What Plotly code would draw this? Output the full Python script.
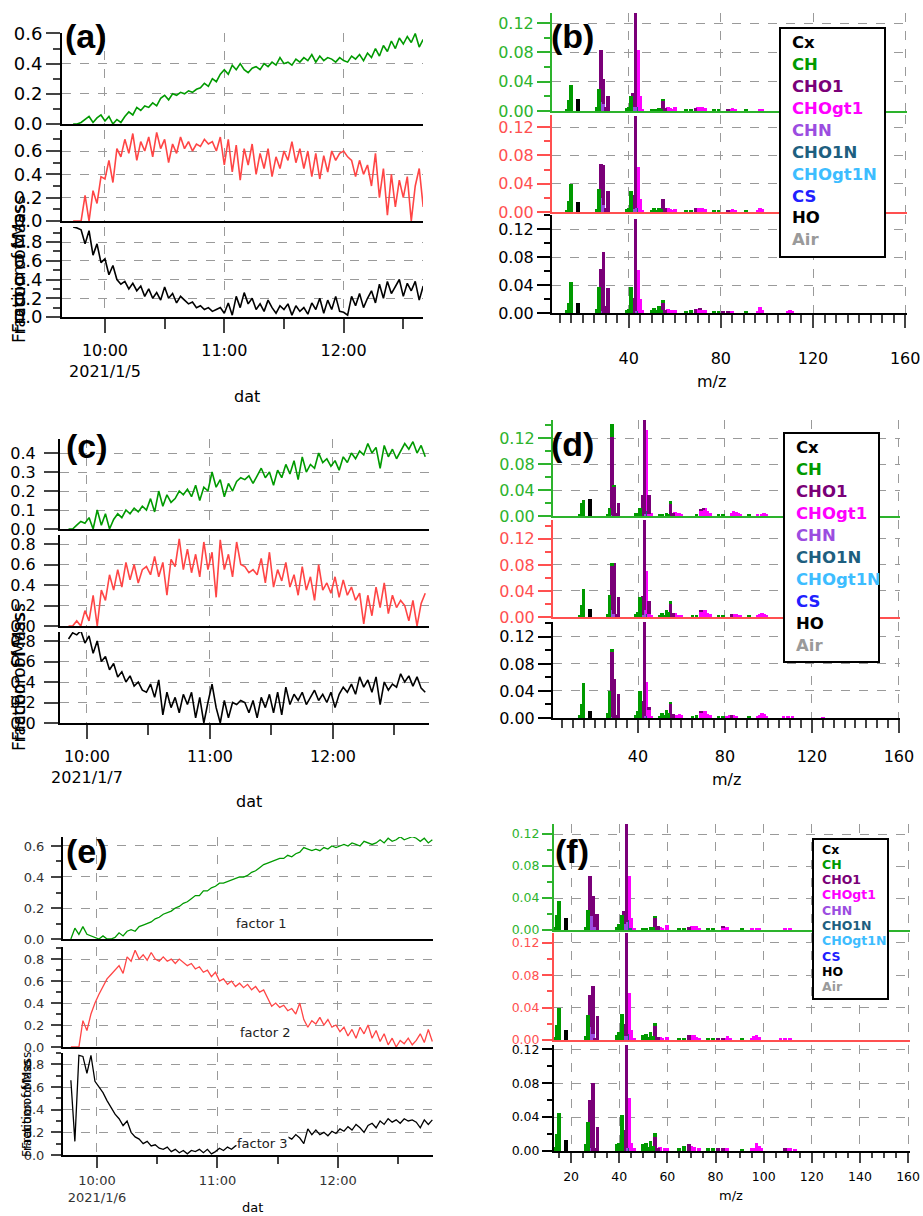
import pandas as pd
import plotly.graph_objects as go

# ---------------- factor time series (fraction of mass), one value every 2 min ----------------
A_START = "2021-01-05 09:44"
A_FACTOR1 = [0.00, 0.00, 0.01, 0.03, 0.05, 0.01, 0.04, 0.06, 0.02, 0.05, 0.00, 0.03, 0.01, 0.05, 0.08,
             0.06, 0.11, 0.09, 0.12, 0.11, 0.14, 0.12, 0.17, 0.19, 0.16, 0.20, 0.19, 0.21, 0.20, 0.22,
             0.21, 0.23, 0.24, 0.27, 0.25, 0.30, 0.28, 0.33, 0.36, 0.33, 0.39, 0.36, 0.40, 0.36, 0.34,
             0.37, 0.38, 0.36, 0.40, 0.38, 0.41, 0.39, 0.44, 0.40, 0.41, 0.39, 0.43, 0.41, 0.44, 0.42,
             0.46, 0.41, 0.45, 0.42, 0.44, 0.43, 0.41, 0.44, 0.42, 0.41, 0.45, 0.43, 0.46, 0.42, 0.47,
             0.44, 0.50, 0.45, 0.52, 0.48, 0.55, 0.50, 0.57, 0.53, 0.58, 0.54, 0.60, 0.51, 0.56]
A_FACTOR2 = [0.00, 0.00, 0.00, 0.22, 0.00, 0.26, 0.15, 0.38, 0.36, 0.52, 0.33, 0.62, 0.55, 0.70, 0.58,
             0.75, 0.52, 0.68, 0.60, 0.72, 0.55, 0.76, 0.62, 0.70, 0.50, 0.66, 0.58, 0.72, 0.62, 0.68,
             0.60, 0.66, 0.64, 0.70, 0.66, 0.68, 0.60, 0.72, 0.48, 0.70, 0.42, 0.65, 0.35, 0.62, 0.48,
             0.66, 0.40, 0.58, 0.45, 0.62, 0.38, 0.55, 0.45, 0.60, 0.52, 0.68, 0.50, 0.62, 0.45, 0.60,
             0.38, 0.58, 0.36, 0.56, 0.42, 0.60, 0.52, 0.58, 0.60, 0.55, 0.52, 0.38, 0.52, 0.40, 0.48,
             0.30, 0.58, 0.20, 0.45, 0.05, 0.40, 0.12, 0.35, 0.20, 0.38, 0.00, 0.30, 0.45, 0.12]
A_FACTOR3 = [0.96, 0.95, 0.93, 0.78, 0.92, 0.66, 0.78, 0.58, 0.62, 0.45, 0.55, 0.40, 0.35, 0.38, 0.30,
             0.36, 0.28, 0.33, 0.22, 0.30, 0.20, 0.26, 0.18, 0.32, 0.20, 0.25, 0.15, 0.22, 0.18, 0.14,
             0.16, 0.10, 0.12, 0.08, 0.10, 0.06, 0.08, 0.10, 0.04, 0.15, 0.02, 0.22, 0.10, 0.26, 0.14,
             0.20, 0.08, 0.14, 0.06, 0.18, 0.10, 0.04, 0.12, 0.08, 0.14, 0.02, 0.12, 0.06, 0.10, 0.03,
             0.15, 0.08, 0.20, 0.04, 0.18, 0.08, 0.22, 0.06, 0.05, 0.02, 0.22, 0.12, 0.25, 0.10, 0.20,
             0.28, 0.15, 0.35, 0.20, 0.38, 0.25, 0.32, 0.40, 0.22, 0.36, 0.28, 0.38, 0.18, 0.33]

C_START = "2021-01-07 09:51"
C_FACTOR1 = [0.00, 0.00, 0.02, 0.04, 0.03, 0.06, 0.00, 0.10, 0.02, 0.08, 0.00, 0.05, 0.08, 0.06, 0.10,
             0.08, 0.11, 0.09, 0.12, 0.10, 0.16, 0.09, 0.20, 0.12, 0.18, 0.14, 0.16, 0.20, 0.18, 0.21,
             0.17, 0.23, 0.15, 0.22, 0.20, 0.30, 0.22, 0.26, 0.17, 0.24, 0.20, 0.25, 0.27, 0.26, 0.28,
             0.24, 0.28, 0.32, 0.27, 0.30, 0.23, 0.31, 0.27, 0.34, 0.29, 0.36, 0.26, 0.38, 0.30, 0.34,
             0.32, 0.40, 0.35, 0.37, 0.33, 0.36, 0.31, 0.38, 0.35, 0.40, 0.37, 0.41, 0.39, 0.45, 0.40,
             0.43, 0.32, 0.44, 0.38, 0.42, 0.37, 0.41, 0.45, 0.42, 0.46, 0.40, 0.44, 0.38]
C_FACTOR2 = [0.00, 0.00, 0.05, 0.00, 0.15, 0.05, 0.30, 0.00, 0.35, 0.25, 0.50, 0.35, 0.55, 0.38, 0.62,
             0.45, 0.60, 0.42, 0.55, 0.58, 0.50, 0.68, 0.48, 0.62, 0.30, 0.65, 0.58, 0.85, 0.55, 0.75,
             0.52, 0.70, 0.48, 0.82, 0.55, 0.72, 0.28, 0.84, 0.55, 0.70, 0.48, 0.82, 0.60, 0.58, 0.52,
             0.55, 0.50, 0.66, 0.42, 0.72, 0.38, 0.55, 0.44, 0.62, 0.38, 0.50, 0.30, 0.58, 0.35, 0.48,
             0.25, 0.60, 0.35, 0.42, 0.32, 0.48, 0.28, 0.45, 0.30, 0.38, 0.25, 0.32, 0.02, 0.30, 0.10,
             0.38, 0.18, 0.42, 0.12, 0.30, 0.18, 0.25, 0.20, 0.05, 0.25, 0.00, 0.22, 0.32]
C_FACTOR3 = [0.82, 0.88, 0.86, 0.90, 0.78, 0.85, 0.68, 0.80, 0.60, 0.65, 0.52, 0.58, 0.45, 0.50, 0.40,
             0.46, 0.36, 0.40, 0.32, 0.30, 0.38, 0.25, 0.42, 0.08, 0.30, 0.15, 0.25, 0.10, 0.28, 0.18,
             0.30, 0.05, 0.25, 0.00, 0.20, 0.38, 0.15, 0.00, 0.22, 0.05, 0.20, 0.18, 0.22, 0.20, 0.10,
             0.22, 0.05, 0.25, 0.15, 0.28, 0.10, 0.30, 0.08, 0.35, 0.18, 0.28, 0.22, 0.30, 0.18, 0.25,
             0.32, 0.22, 0.28, 0.20, 0.30, 0.15, 0.28, 0.35, 0.30, 0.38, 0.28, 0.45, 0.35, 0.42, 0.30,
             0.45, 0.18, 0.40, 0.32, 0.38, 0.35, 0.48, 0.40, 0.46, 0.36, 0.45, 0.34, 0.30]

E_START = "2021-01-06 09:47"
E_FACTOR1 = [0.00, 0.07, 0.03, 0.08, 0.03, 0.02, 0.01, 0.00, 0.02, 0.00, 0.00, 0.01, 0.04, 0.02, 0.05,
             0.06, 0.05, 0.08, 0.09, 0.10, 0.11, 0.13, 0.14, 0.16, 0.17, 0.18, 0.20, 0.21, 0.23, 0.24,
             0.26, 0.28, 0.28, 0.31, 0.31, 0.33, 0.34, 0.36, 0.36, 0.37, 0.38, 0.39, 0.40, 0.40, 0.41,
             0.43, 0.44, 0.46, 0.48, 0.49, 0.50, 0.51, 0.52, 0.52, 0.54, 0.53, 0.55, 0.56, 0.59, 0.58,
             0.57, 0.58, 0.57, 0.59, 0.58, 0.60, 0.59, 0.60, 0.61, 0.60, 0.62, 0.61, 0.60, 0.63, 0.62,
             0.61, 0.62, 0.64, 0.62, 0.65, 0.63, 0.64, 0.66, 0.64, 0.65, 0.66, 0.65, 0.63, 0.65, 0.62,
             0.64]
E_FACTOR2 = [0.00, 0.00, 0.00, 0.24, 0.15, 0.30, 0.40, 0.48, 0.55, 0.62, 0.66, 0.70, 0.74, 0.67, 0.82,
             0.78, 0.88, 0.80, 0.84, 0.79, 0.86, 0.80, 0.78, 0.82, 0.78, 0.80, 0.76, 0.80, 0.77, 0.74,
             0.76, 0.71, 0.73, 0.68, 0.70, 0.64, 0.68, 0.60, 0.62, 0.57, 0.60, 0.55, 0.58, 0.54, 0.57,
             0.52, 0.55, 0.50, 0.52, 0.44, 0.37, 0.40, 0.36, 0.38, 0.33, 0.35, 0.30, 0.40, 0.25, 0.18,
             0.24, 0.21, 0.27, 0.20, 0.25, 0.18, 0.20, 0.14, 0.18, 0.10, 0.16, 0.08, 0.18, 0.12, 0.20,
             0.08, 0.15, 0.05, 0.12, 0.02, 0.08, 0.00, 0.06, 0.03, 0.08, 0.02, 0.06, 0.12, 0.04, 0.16,
             0.05]
E_FACTOR3 = [0.66, 0.12, 0.88, 0.87, 0.72, 0.88, 0.65, 0.60, 0.55, 0.48, 0.42, 0.36, 0.32, 0.26, 0.30,
             0.20, 0.16, 0.14, 0.10, 0.12, 0.08, 0.09, 0.06, 0.05, 0.07, 0.03, 0.05, 0.02, 0.04, 0.01,
             0.04, 0.03, 0.05, 0.02, 0.05, 0.01, 0.03, 0.06, 0.04, 0.07, 0.05, 0.08, 0.09, 0.10, 0.10,
             0.12, 0.11, 0.13, 0.12, 0.14, 0.13, 0.16, 0.14, 0.12, 0.16, 0.14, 0.18, 0.15, 0.10, 0.23,
             0.18, 0.22, 0.18, 0.20, 0.17, 0.21, 0.19, 0.23, 0.21, 0.25, 0.22, 0.27, 0.24, 0.20, 0.26,
             0.28, 0.24, 0.30, 0.27, 0.32, 0.29, 0.31, 0.28, 0.32, 0.30, 0.31, 0.29, 0.24, 0.31, 0.27,
             0.31]

FACTOR_COLORS = ["#009A00", "#FF4545", "#000000"]

# ---------------- factor mass spectra: family -> [(m/z, fraction)] ----------------
FAMILIES = ["Cx", "CH", "CHO1", "CHOgt1", "CHN", "CHO1N", "CHOgt1N", "CS", "HO", "Air"]
FAMILY_COLORS = ["#000000", "#009A00", "#7A0078", "#FF00FF", "#9B4DE0", "#1E5F80",
                 "#3DBDFF", "#2020FF", "#000000", "#9A9A9A"]
STACK = ["CHO1N", "CHN", "CHOgt1", "CHO1", "CH", "HO"]   # bottom -> top

B_F1 = {
    "CH": [(13, .003), (14, .015), (15, .035), (26, .005), (27, .030), (39, .004), (40, .005), (41, .020),
           (50, .002), (51, .003), (52, .002), (53, .004), (54, .003), (55, .004), (65, .002), (67, .003),
           (77, .002), (79, .002), (91, .002)],
    "HO": [(18, .017)],
    "CHN": [(28, .012), (29, .010), (42, .005), (43, .005)],
    "CHO1N": [(44, .006)],
    "CHO1": [(28, .071), (29, .034), (30, .006), (31, .020), (42, .020), (43, .130), (55, .013), (56, .004),
             (69, .004), (83, .002)],
    "CHOgt1": [(44, .077), (45, .020), (46, .003), (57, .005), (58, .004), (59, .003), (60, .005), (70, .005),
               (71, .006), (72, .005), (73, .004), (84, .003), (85, .004), (86, .003), (97, .003), (98, .002),
               (111, .002)],
}
B_F2 = {
    "CH": [(13, .003), (14, .015), (15, .040), (26, .004), (27, .033), (39, .004), (40, .006), (41, .030),
           (50, .003), (51, .005), (52, .003), (53, .006), (54, .004), (65, .002), (67, .003), (77, .002),
           (79, .002), (91, .002)],
    "HO": [(18, .014)],
    "CHN": [(28, .020), (29, .010), (42, .004), (43, .006)],
    "CHO1N": [(44, .006)],
    "CHO1": [(28, .048), (29, .057), (30, .006), (31, .030), (42, .020), (43, .130), (55, .018), (56, .005),
             (69, .005), (83, .003)],
    "CHOgt1": [(44, .058), (45, .018), (46, .003), (57, .005), (58, .004), (59, .003), (60, .004), (70, .006),
               (71, .006), (72, .005), (73, .004), (84, .003), (85, .004), (86, .003), (96, .003), (97, .006),
               (98, .004), (111, .002)],
}
B_F3 = {
    "CH": [(13, .004), (14, .015), (15, .045), (26, .006), (27, .037), (39, .005), (40, .006), (41, .037),
           (50, .004), (51, .007), (52, .004), (53, .010), (54, .005), (55, .004), (65, .003), (67, .004),
           (77, .003), (79, .002), (91, .002)],
    "HO": [(18, .014)],
    "CHN": [(28, .003), (43, .003)],
    "CHO1N": [(44, .003)],
    "CHO1": [(28, .060), (29, .087), (30, .010), (31, .036), (42, .022), (43, .132), (55, .015), (56, .005),
             (69, .006), (71, .003), (81, .002), (83, .003)],
    "CHOgt1": [(44, .058), (45, .020), (46, .004), (57, .006), (58, .004), (59, .004), (60, .004), (70, .006),
               (71, .004), (72, .005), (73, .004), (84, .003), (85, .003), (96, .003), (97, .009), (98, .005),
               (109, .002), (110, .004), (111, .003)],
}

D_F1 = {
    "CH": [(13, .003), (14, .020), (15, .025), (26, .003), (27, .012), (28, .020), (29, .004), (39, .005),
           (40, .003), (41, .012), (50, .002), (51, .003), (53, .004), (54, .003), (55, .003), (67, .002),
           (77, .002), (79, .002), (91, .002)],
    "HO": [(18, .026)],
    "CHN": [(28, .002), (43, .003)],
    "CHO1N": [(44, .008)],
    "CHO1": [(28, .120), (29, .044), (30, .005), (31, .020), (42, .032), (43, .150), (45, .030), (55, .020),
             (56, .005), (69, .003), (70, .003)],
    "CHOgt1": [(44, .125), (45, .003), (46, .004), (57, .006), (58, .004), (59, .005), (60, .003), (69, .008),
               (70, .010), (71, .012), (72, .008), (73, .005), (83, .004), (84, .007), (85, .006), (86, .004),
               (87, .003), (95, .002), (97, .003), (98, .004), (99, .003)],
}
D_F2 = {
    "CH": [(13, .003), (14, .018), (15, .043), (26, .005), (27, .034), (28, .005), (39, .005), (40, .008),
           (41, .031), (50, .003), (51, .006), (52, .003), (53, .010), (54, .008), (55, .004), (65, .002),
           (67, .003), (77, .002), (79, .002), (91, .002)],
    "HO": [(18, .013)],
    "CHN": [(28, .010), (29, .005), (42, .003), (43, .010)],
    "CHO1N": [(44, .005)],
    "CHO1": [(28, .068), (29, .078), (30, .005), (31, .030), (42, .030), (43, .140), (45, .020), (55, .020),
             (56, .006), (69, .003), (83, .004)],
    "CHOgt1": [(44, .066), (45, .005), (46, .003), (57, .006), (58, .003), (59, .003), (60, .003), (69, .008),
               (70, .010), (71, .010), (72, .006), (73, .004), (84, .004), (85, .004), (87, .002), (95, .003),
               (96, .004), (97, .006), (98, .005), (99, .003), (109, .002), (111, .002)],
}
D_F3 = {
    "CH": [(13, .004), (14, .020), (15, .052), (26, .008), (27, .040), (28, .005), (39, .005), (40, .010),
           (41, .040), (50, .003), (51, .008), (52, .004), (53, .012), (54, .008), (55, .004), (65, .003),
           (67, .004), (77, .003), (79, .003), (91, .002)],
    "HO": [(18, .010)],
    "CHN": [(28, .002), (43, .003)],
    "CHO1N": [(44, .003)],
    "CHO1": [(28, .095), (29, .058), (30, .005), (31, .035), (42, .025), (43, .150), (45, .004), (55, .020),
             (56, .006), (69, .003), (83, .005)],
    "CHOgt1": [(44, .050), (45, .012), (46, .003), (57, .005), (58, .004), (59, .006), (60, .004), (69, .008),
               (70, .010), (71, .010), (72, .006), (73, .004), (81, .003), (82, .004), (84, .004), (85, .003),
               (95, .003), (96, .005), (97, .008), (98, .006), (99, .003), (107, .002), (109, .003),
               (111, .002), (125, .001)],
}

F_F1 = {
    "CH": [(13, .004), (14, .019), (15, .036), (26, .004), (27, .025), (39, .004), (40, .008), (41, .019),
           (50, .002), (51, .003), (53, .004), (54, .004), (55, .003), (65, .002), (67, .002), (77, .002),
           (79, .002), (91, .002)],
    "HO": [(18, .015)],
    "CHN": [(28, .017), (29, .017), (30, .004), (42, .008), (43, .010)],
    "CHO1N": [(44, .013), (45, .003)],
    "CHO1": [(28, .050), (29, .025), (30, .016), (31, .020), (42, .016), (43, .124), (55, .015), (56, .005),
             (69, .004), (83, .002)],
    "CHOgt1": [(44, .055), (45, .012), (46, .003), (57, .004), (58, .003), (60, .006), (70, .005), (71, .005),
               (72, .005), (73, .003), (83, .003), (84, .004), (85, .004), (95, .002), (97, .003), (98, .002),
               (109, .002), (111, .002)],
}
F_F2 = {
    "CH": [(13, .004), (14, .018), (15, .039), (26, .005), (27, .031), (39, .006), (40, .010), (41, .032),
           (50, .006), (51, .007), (52, .004), (53, .010), (54, .005), (55, .004), (65, .003), (67, .002),
           (77, .002), (79, .002), (91, .002)],
    "HO": [(18, .012)],
    "CHN": [(28, .016), (29, .008), (42, .005), (43, .005)],
    "CHO1N": [(44, .008)],
    "CHO1": [(28, .040), (29, .059), (30, .003), (31, .029), (42, .015), (43, .127), (55, .017), (56, .004),
             (69, .006), (81, .002), (83, .003)],
    "CHOgt1": [(44, .050), (45, .012), (46, .003), (57, .004), (58, .003), (60, .004), (70, .006), (71, .006),
               (72, .004), (73, .003), (84, .003), (85, .005), (86, .003), (95, .003), (96, .005), (97, .006),
               (98, .004), (107, .002), (109, .002), (111, .003)],
}
F_F3 = {
    "CH": [(13, .005), (14, .020), (15, .045), (26, .008), (27, .034), (39, .008), (40, .010), (41, .042),
           (50, .008), (51, .010), (52, .005), (53, .012), (54, .006), (55, .004), (65, .004), (67, .006),
           (77, .003), (79, .003), (91, .002)],
    "HO": [(18, .013)],
    "CHN": [(28, .003), (43, .003)],
    "CHO1N": [(44, .003)],
    "CHO1": [(28, .057), (29, .080), (30, .004), (31, .028), (42, .025), (43, .130), (55, .017), (56, .004),
             (69, .008), (81, .004), (83, .003), (109, .003)],
    "CHOgt1": [(44, .060), (45, .010), (46, .003), (57, .005), (59, .004), (60, .003), (70, .006), (71, .005),
               (73, .003), (84, .003), (85, .003), (95, .003), (96, .004), (97, .009), (98, .006), (99, .003),
               (110, .004), (111, .003), (113, .002)],
}

SPEC_AXIS_COLORS = ["#2DB32D", "#FF5050", "#000000"]
COLOR_OF = dict(zip(FAMILIES, FAMILY_COLORS))

W, H = 923, 1216
FONT = "DejaVu Sans"
GRID = dict(showgrid=True, gridcolor="#9a9a9a", gridwidth=1, griddash="dash", zeroline=False,
            automargin=False)

fig = go.Figure()
lay = dict(width=W, height=H, margin=dict(l=0, r=0, t=0, b=0, pad=0, autoexpand=False),
           paper_bgcolor="white", plot_bgcolor="white", barmode="stack", bargap=0,
           showlegend=False, font=dict(family=FONT, color="black"))
ann, shp = [], []
count = [0]


def X(p):
    return p / W


def Y(p):
    return 1 - p / H


def axis_pair():
    count[0] += 1
    s = "" if count[0] == 1 else str(count[0])
    return "xaxis" + s, "yaxis" + s, "x" + s, "y" + s


def text(x, y, s, size, color="black", family=FONT, xanchor="center", **kw):
    ann.append(dict(x=X(x), y=Y(y), xref="paper", yref="paper", text=s, showarrow=False,
                    xanchor=xanchor, yanchor="middle",
                    font=dict(size=size, color=color, family=family), **kw))


def time_panel(start, series, p):
    t = pd.date_range(start, periods=len(series[0]), freq="2min")
    day = start[:10]
    hours = [f"{day} {h}:00" for h in (10, 11, 12)]
    halves = [f"{day} {h}:30" for h in (9, 10, 11, 12)]
    for k, vals in enumerate(series):
        xa, ya, xr, yr = axis_pair()
        last = k == len(series) - 1
        fig.add_trace(go.Scatter(x=t, y=vals, mode="lines", xaxis=xr, yaxis=yr, hoverinfo="skip",
                                 line=dict(color=FACTOR_COLORS[k], width=p["lw"])))
        top, bot = p["ydom"][k]
        lay[xa] = dict(domain=[X(p["x0"]), X(p["x1"])], anchor=yr,
                       range=[f"{day} {p['t0']}", f"{day} {p['t1']}"],
                       showline=True, linecolor="black", linewidth=2,
                       tickmode="array", tickvals=hours,
                       ticktext=[f"10:00<br>{p['date']}", "11:00", "12:00"],
                       ticks="outside" if last else "", ticklen=p["xtl"], tickwidth=2,
                       showticklabels=last, ticklabelstandoff=p["xso"],
                       tickfont=dict(size=p["fs"], color=p["fc"]),
                       minor=dict(tickmode="array", tickvals=halves, ticks="outside" if last else "",
                                  ticklen=p["xtl"] - 4, tickwidth=2, showgrid=False),
                       **GRID)
        ymin = dict(dtick=p["ydt"][k] / 2, ticks="outside", ticklen=p["ytl"] // 2, tickwidth=1.5,
                    showgrid=False) if p["minor"] else dict(ticks="")
        lay[ya] = dict(domain=[Y(bot), Y(top)], anchor=xr, range=[0, p["ymax"][k]],
                       showline=True, linecolor="black", linewidth=2,
                       tick0=0, dtick=p["ydt"][k], tickformat=".1f",
                       ticks="outside", ticklen=p["ytl"], tickwidth=2, ticklabelstandoff=p["yso"],
                       tickfont=dict(size=p["yfs"], color=p["fc"]), minor=ymin, **GRID)


def spectrum_panel(factors, p):
    for k, fac in enumerate(factors):
        xa, ya, xr, yr = axis_pair()
        last = k == len(factors) - 1
        for fam in STACK:
            pts = fac.get(fam, [])
            if pts:
                fig.add_trace(go.Bar(x=[m for m, _ in pts], y=[v for _, v in pts], width=1.6,
                                     marker=dict(color=COLOR_OF[fam], line=dict(width=0)),
                                     xaxis=xr, yaxis=yr, hoverinfo="skip"))
        col = SPEC_AXIS_COLORS[k]
        top, bot = p["ydom"][k]
        lay[xa] = dict(domain=[X(p["x0"]), X(p["x1"])], anchor=yr, range=p["xr"],
                       showline=True, linecolor=col, linewidth=2 if last else 1.5,
                       tick0=0, dtick=p["xdt"], ticks="outside" if last else "",
                       ticklen=p["xtl"], tickwidth=2, showticklabels=last,
                       ticklabelstandoff=p["xso"], tickfont=dict(size=p["fs"], color="black"),
                       minor=dict(tick0=0, dtick=5, ticks="outside" if last else "",
                                  ticklen=p["xtl"] - 5, tickwidth=2, showgrid=False),
                       **GRID)
        lay[ya] = dict(domain=[Y(bot), Y(top)], anchor=xr, range=[0, p["ymax"][k]],
                       showline=True, linecolor=col, linewidth=2,
                       tick0=0, dtick=0.04, tickformat=".2f",
                       ticks="outside", ticklen=p["ytl"], tickwidth=2, tickcolor=col,
                       ticklabelstandoff=p["yso"], tickfont=dict(size=p["fs"], color=col),
                       minor=dict(dtick=0.02, ticks="outside", ticklen=p["ytl"] // 2, tickwidth=1.5,
                                  tickcolor=col, showgrid=False),
                       **GRID)


def legend_box(x0, y0, x1, y1, tx, ty, dy, size):
    shp.append(dict(type="rect", xref="paper", yref="paper", x0=X(x0), x1=X(x1), y0=Y(y1), y1=Y(y0),
                    line=dict(color="black", width=2), fillcolor="white", layer="above"))
    for j, (name, col) in enumerate(zip(FAMILIES, FAMILY_COLORS)):
        text(tx, ty + j * dy, f"<b>{name}</b>", size, col, xanchor="left")


# (a) (c) (e) time series
time_panel(A_START, [A_FACTOR1, A_FACTOR2, A_FACTOR3],
           dict(x0=62, x1=423, t0="09:38:24", t1="12:39:54", date="2021/1/5",
                ydom=[(33, 124), (130, 221), (227, 317)], ymax=[0.603, 0.78, 0.96],
                ydt=[0.2, 0.2, 0.2], minor=True, fs=16, yfs=18, fc="black", lw=1.6,
                xtl=14, xso=4, ytl=14, yso=0))
time_panel(C_START, [C_FACTOR1, C_FACTOR2, C_FACTOR3],
           dict(x0=60, x1=429, t0="09:46:50", t1="12:46:50", date="2021/1/7",
                ydom=[(439, 529), (535, 626), (632, 723)], ymax=[0.474, 0.888, 0.888],
                ydt=[0.1, 0.2, 0.2], minor=False, fs=16, yfs=16, fc="black", lw=1.6,
                xtl=14, xso=4, ytl=14, yso=5))
time_panel(E_START, [E_FACTOR1, E_FACTOR2, E_FACTOR3],
           dict(x0=63, x1=433, t0="09:43:05", t1="12:47:20", date="2021/1/6",
                ydom=[(837, 939), (947, 1047), (1053, 1155)], ymax=[0.658, 0.91, 0.9],
                ydt=[0.2, 0.2, 0.2], minor=True, fs=13, yfs=13, fc="#333333", lw=1.3,
                xtl=11, xso=1, ytl=10, yso=4))

# (b) (d) (f) mass spectra
spectrum_panel([B_F1, B_F2, B_F3],
               dict(x0=552, x1=907, xr=[6.7, 160.8], xdt=40,
                    ydom=[(13, 111), (115, 212), (215, 313)], ymax=[0.134, 0.137, 0.14],
                    fs=16, xtl=13, xso=17, ytl=13, yso=0))
spectrum_panel([D_F1, D_F2, D_F3],
               dict(x0=553, x1=900, xr=[0.9, 160.5], xdt=40,
                    ydom=[(420, 516), (520, 617), (622, 718)], ymax=[0.148, 0.149, 0.142],
                    fs=16, xtl=13, xso=10, ytl=13, yso=0))
spectrum_panel([F_F1, F_F2, F_F3],
               dict(x0=554, x1=910, xr=[12.9, 160.8], xdt=20,
                    ydom=[(824, 930), (933, 1040), (1045, 1151)], ymax=[0.1325, 0.132, 0.125],
                    fs=12.5, xtl=10, xso=3, ytl=10, yso=0))

legend_box(780, 28, 885, 257, 790, 42.7, 21.9, 16.5)
legend_box(784, 433, 879, 662, 794, 447.7, 22.0, 16.5)
legend_box(813, 839, 888, 999, 820, 849, 15.3, 12.5)

# panel letters
for lbl, x, y in [("(a)", 86, 36), ("(b)", 572, 36), ("(c)", 87, 446),
                  ("(d)", 572, 444), ("(e)", 87, 851), ("(f)", 572, 851)]:
    text(x, y, f"<b>{lbl}</b>", 34, family="Liberation Sans")

# axis titles
for x, y, s in [(247, 397, 16), (249, 801, 16), (252, 1207, 13)]:
    text(x, y, "dat", s)
for x, y, s in [(711, 381, 16), (726, 779, 16), (731, 1195, 13)]:
    text(x, y, "m/z", s)
for x, y, s in [(19, 264, 17), (19, 274, 17), (19, 672, 17), (19, 682, 17), (27, 1101, 12), (27, 1109, 12)]:
    text(x, y, "Fraction of Mass", s, textangle=-90)

# factor tags in (e)
for lbl, x, y in [("factor 1", 261, 924), ("factor 2", 265, 1032), ("factor 3", 262, 1143)]:
    text(x, y, lbl, 13, "#222222", bgcolor="white", borderpad=0)

lay["annotations"] = ann
lay["shapes"] = shp
fig.update_layout(**lay)
fig.write_html("out.html", config={"displayModeBar": False},
               post_script="document.body.style.margin='0px';")
